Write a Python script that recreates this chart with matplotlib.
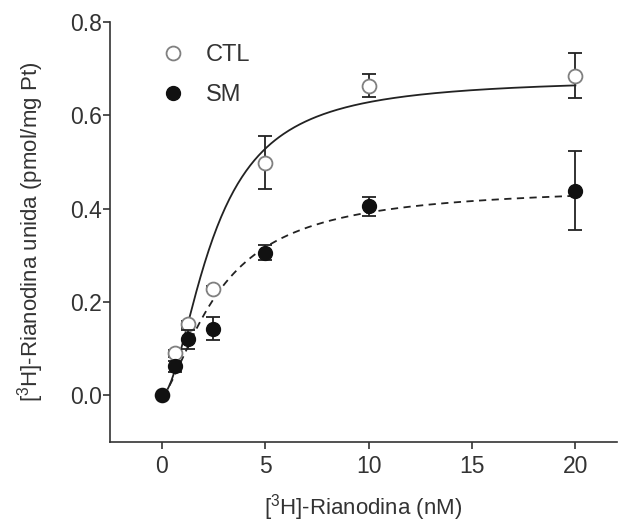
import numpy as np
import matplotlib
matplotlib.use("Agg")
import matplotlib.pyplot as plt
from matplotlib.lines import Line2D

plt.rcParams['font.family'] = ['Liberation Sans', 'DejaVu Sans']
plt.rcParams['mathtext.fontset'] = 'custom'
plt.rcParams['mathtext.rm'] = 'Liberation Sans'
plt.rcParams['mathtext.it'] = 'Liberation Sans'

# datos
conc = [0, 0.625, 1.25, 2.5, 5, 10, 20]
ctl = [0.0, 0.09, 0.152, 0.229, 0.499, 0.664, 0.685]
ctl_err = [0.0, 0.008, 0.008, 0.006, 0.056, 0.025, 0.048]
sm = [0.0, 0.062, 0.12, 0.143, 0.306, 0.405, 0.439]
sm_err = [0.0, 0.012, 0.02, 0.025, 0.016, 0.021, 0.084]

# parametros del ajuste (Bmax, Kd, n)
ajuste_ctl = (0.68, 2.5, 1.8)
ajuste_sm = (0.45, 2.8, 1.5)

def hill(x, bmax, kd, n):
    return bmax * x**n / (kd**n + x**n)

xs = np.linspace(0, 20, 300)
texto = '#333333'

fig = plt.figure(figsize=(6.18, 5.25), dpi=100)
ax = fig.add_axes([0.178, 0.158, 0.82, 0.80])

ax.plot(xs, hill(xs, *ajuste_ctl), color='#222222', lw=1.3)
ax.plot(xs, hill(xs, *ajuste_sm), color='#222222', lw=1.3, ls=(0, (4, 3)))

ax.errorbar(conc, ctl, yerr=ctl_err, fmt='o', ms=10, mfc='white', mec='#808080',
            mew=1.3, ecolor='#222222', elinewidth=1.3, capsize=5, capthick=1.3, zorder=3)
ax.errorbar(conc, sm, yerr=sm_err, fmt='o', ms=10, mfc='#111111', mec='#111111',
            ecolor='#222222', elinewidth=1.3, capsize=5, capthick=1.3, zorder=4)

ax.set_xlim(-2.5, 22)
ax.set_ylim(-0.1, 0.8)
ax.set_xticks([0, 5, 10, 15, 20])
ax.set_yticks([0.0, 0.2, 0.4, 0.6, 0.8])
ax.set_yticklabels(['0.0', '0.2', '0.4', '0.6', '0.8'])
ax.spines['top'].set_visible(False)
ax.spines['right'].set_visible(False)
for s in ['left', 'bottom']:
    ax.spines[s].set_linewidth(1.2)
    ax.spines[s].set_color('#333333')
ax.tick_params(labelsize=16.5, colors='#333333', labelcolor=texto, length=5, width=1.2)
ax.tick_params(axis='y', pad=1)
ax.tick_params(axis='x', pad=4)

ax.set_xlabel('[$^{3}$H]-Rianodina (nM)', fontsize=16, color=texto)
ax.set_ylabel('[$^{3}$H]-Rianodina unida (pmol/mg Pt)', fontsize=16, color=texto)
ax.xaxis.set_label_coords(0.5, -0.118)
ax.yaxis.set_label_coords(-0.127, 0.5)

handles = [Line2D([], [], ls='', marker='o', ms=10, mfc='white', mec='#808080', mew=1.3),
           Line2D([], [], ls='', marker='o', ms=10, mfc='#111111', mec='#111111')]
ax.legend(handles, ['CTL', 'SM'], loc='upper left', bbox_to_anchor=(0.036, 0.998),
          frameon=False, fontsize=17, labelcolor=texto, handletextpad=0.4, labelspacing=0.75)

fig.savefig('out.png', dpi=100)
